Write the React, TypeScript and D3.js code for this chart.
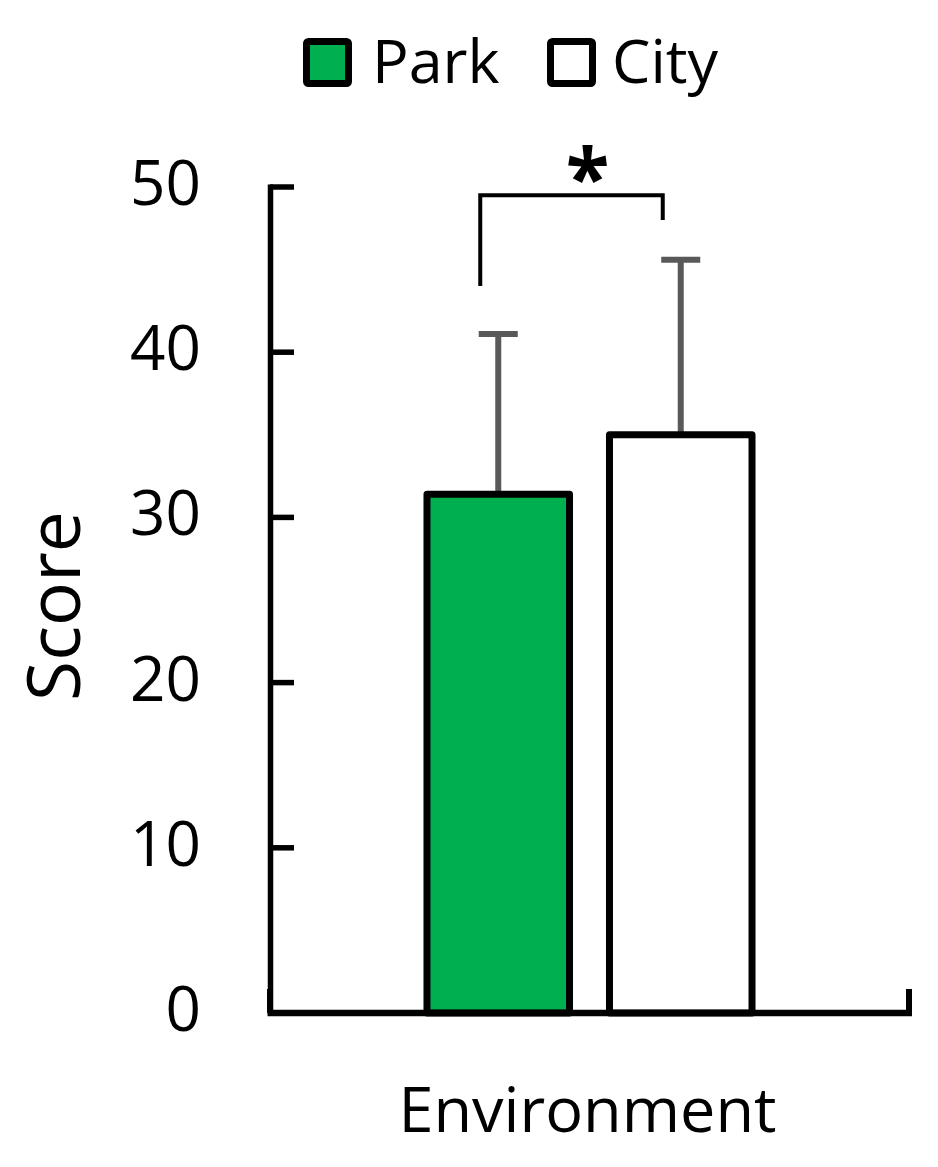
import React from "react";
import * as d3 from "d3";

const categories = ["Environment"];
const seriesNames = ["Park", "City"];
const seriesMeans = [31.4, 35.0];
const seriesSD = [9.7, 10.6];
const seriesFill = ["#00B050", "#FFFFFF"];
const yTicks = [0, 10, 20, 30, 40, 50];
const bracketLegs = [44, 48];
const bracketTop = 49.5;
const sigLabel = "*";

const W = 938;
const H = 1167;
const FONT = "'Open Sans', 'Noto Sans', sans-serif";

export default function App() {
  const y = d3.scaleLinear().domain([0, 50]).range([1013, 187]);
  const x0 = d3.scaleBand().domain(categories).range([270, 909]).paddingInner(0).paddingOuter(0.483);
  const x1 = d3.scaleBand().domain(seriesNames).range([0, x0.bandwidth()]).paddingInner(0.219).paddingOuter(0);
  const bw = x1.bandwidth();
  const gx = x0(categories[0]) as number;
  const cx = (s: string) => gx + (x1(s) as number) + bw / 2;

  const [xl, xr] = x0.range();
  const bl = cx(seriesNames[0]) - 18;
  const br = cx(seriesNames[1]) - 18;

  return (
    <svg width={W} height={H} viewBox={`0 0 ${W} ${H}`} style={{ position: "absolute", left: 0, top: 0, background: "#fff" }} fontFamily={FONT}>
      <rect x={0} y={0} width={W} height={H} fill="#fff" />
      {/* Legend */}
      <g>
        <rect x={306.5} y={41.5} width={42} height={42} fill={seriesFill[0]} stroke="#000" strokeWidth={7} rx={2} />
        <text x={372} y={83} fontSize={61} fill="#000">{seriesNames[0]}</text>
        <rect x={550.5} y={41.5} width={42} height={42} fill={seriesFill[1]} stroke="#000" strokeWidth={7} rx={2} />
        <text x={612} y={83} fontSize={61} fill="#000">{seriesNames[1]}</text>
      </g>

      {/* Error bars (upper) */}
      {seriesNames.map((s, i) => {
        const c = cx(s);
        const top = y(seriesMeans[i] + seriesSD[i]);
        return (
          <g key={"e" + s} stroke="#595959" strokeWidth={6}>
            <line x1={c} x2={c} y1={y(seriesMeans[i])} y2={top} />
            <line x1={c - 19.5} x2={c + 19.5} y1={top} y2={top} />
          </g>
        );
      })}

      {/* Bars */}
      {seriesNames.map((s, i) => (
        <rect
          key={"b" + s}
          x={gx + (x1(s) as number)}
          y={y(seriesMeans[i])}
          width={bw}
          height={y(0) - y(seriesMeans[i])}
          fill={seriesFill[i]}
          stroke="#000"
          strokeWidth={7}
          strokeLinejoin="round"
        />
      ))}

      {/* Y axis */}
      <line x1={270.5} x2={270.5} y1={y(50) - 2.5} y2={y(0)} stroke="#000" strokeWidth={5.5} />
      {yTicks.map((t) => (
        <g key={"t" + t}>
          <line x1={270} x2={294} y1={y(t)} y2={y(t)} stroke="#000" strokeWidth={5.5} />
          <text x={201} y={y(t) + 18} fontSize={62} textAnchor="end" fill="#000">{t}</text>
        </g>
      ))}

      {/* X axis */}
      <line x1={xl - 2.5} x2={xr + 3} y1={y(0)} y2={y(0)} stroke="#000" strokeWidth={6.5} />
      {[xl, xr].map((v, i) => (
        <line key={"xt" + i} x1={v} x2={v} y1={y(0)} y2={y(0) - 24} stroke="#000" strokeWidth={6} />
      ))}
      <text x={(xl + xr) / 2 - 2} y={1132} fontSize={63} textAnchor="middle" fill="#000">{categories[0]}</text>

      {/* Y label */}
      <text transform={`translate(80, ${606}) rotate(-90)`} fontSize={73} textAnchor="middle" fill="#000">Score</text>

      {/* Significance bracket */}
      <path
        d={`M${bl},${y(bracketLegs[0])} L${bl},${y(bracketTop)} L${br},${y(bracketTop)} L${br},${y(bracketLegs[1])}`}
        fill="none"
        stroke="#000"
        strokeWidth={4}
      />
      <text x={(bl + br) / 2 + 16} y={206} fontSize={80} fontWeight="bold" textAnchor="middle" fill="#000">{sigLabel}</text>
    </svg>
  );
}
